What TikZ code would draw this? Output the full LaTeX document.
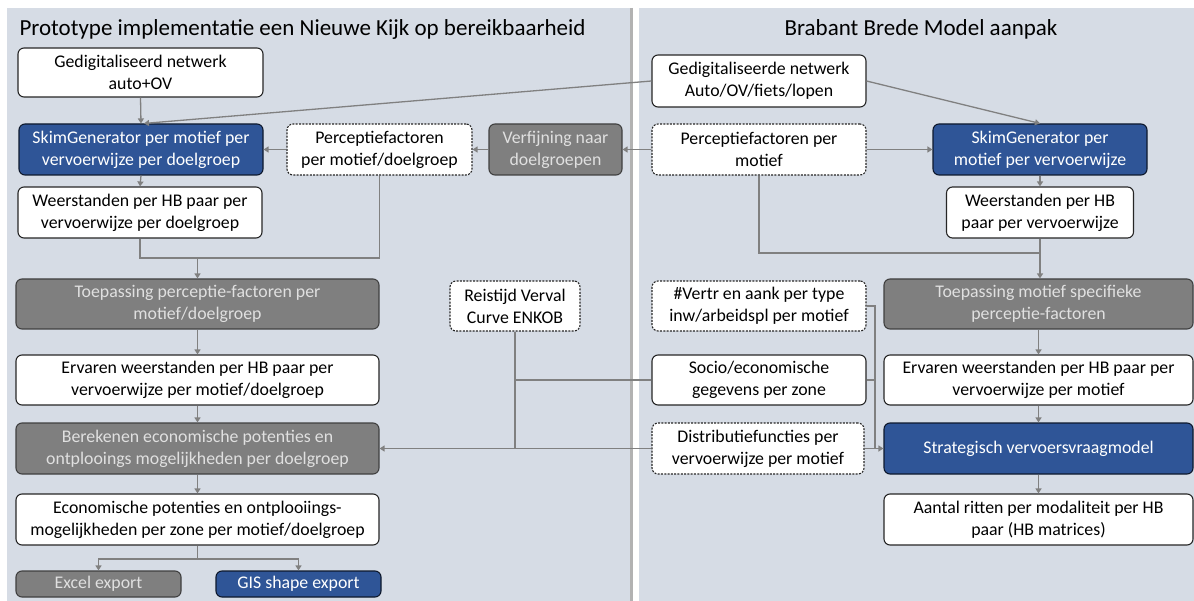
\documentclass[tikz,border=0pt]{standalone}
\usepackage{fontspec}
\setmainfont{Carlito}
\usetikzlibrary{arrows.meta}
\definecolor{panel}{HTML}{D6DCE5}
\definecolor{dblue}{HTML}{2F5597}
\definecolor{dgray}{HTML}{7F7F7F}
\definecolor{conn}{HTML}{808080}
\begin{document}
\begin{tikzpicture}[x=1pt,y=-1pt,
  base/.style={rounded corners=6pt, line width=1.1pt, align=center, inner sep=0pt, font=\fontsize{17.8}{22}\selectfont, anchor=center},
  wbox/.style={base, draw=black!85, fill=white},
  dbox/.style={base, draw=black!85, fill=white, dash pattern=on 2pt off 1.3pt},
  bbox/.style={base, draw=black!70!dblue, fill=dblue, text=white},
  gbox/.style={base, draw=black!75, fill=dgray, text=white!88!black},
  ln/.style={draw=conn, line width=1.3pt},
  ar/.style={ln, -{Triangle[width=6pt,length=5pt]}},
  ttl/.style={font=\fontsize{23}{26}\selectfont},
]
\useasboundingbox (0,0) rectangle (1194,601);
\fill[white] (0,0) rectangle (1194,601);
\fill[panel] (7,8) rectangle (630,601);
\fill[panel] (639,8) rectangle (1194,601);
\draw[line width=2.5pt, gray!60] (631.5,8) -- (631.5,601);

\node[ttl, anchor=west] (t1) at (16,29) {Prototype implementatie een Nieuwe Kijk op bereikbaarheid};
\node[ttl] (t2) at (921,29) {Brabant Brede Model aanpak};

% left column
\node[wbox, minimum width=245, minimum height=49] (g1) at (140.5,72.5) {Gedigitaliseerd netwerk\\auto+OV};
\node[bbox, minimum width=244, minimum height=51] (skimL) at (141,149.5) {SkimGenerator per motief per\\vervoerwijze per doelgroep};
\node[dbox, minimum width=185, minimum height=51] (percL) at (379.5,149.5) {Perceptiefactoren\\per motief/doelgroep};
\node[gbox, minimum width=133, minimum height=51] (verf) at (555.5,149.5) {Verfijning naar\\doelgroepen};
\node[wbox, minimum width=244, minimum height=51] (weerL) at (140,212.5) {Weerstanden per HB paar per\\vervoerwijze per doelgroep};
\node[gbox, minimum width=363, minimum height=50] (toepL) at (197.5,304) {Toepassing perceptie-factoren per\\motief/doelgroep};
\node[dbox, minimum width=130, minimum height=50] (reis) at (515,306) {Reistijd Verval\\Curve ENKOB};
\node[wbox, minimum width=363, minimum height=50] (ervL) at (197.5,380) {Ervaren weerstanden per HB paar per\\vervoerwijze per motief/doelgroep};
\node[gbox, minimum width=363, minimum height=51] (berL) at (197.5,448.5) {Berekenen economische potenties en\\ontplooings mogelijkheden per doelgroep};
\node[wbox, minimum width=363, minimum height=51] (ecoL) at (197.5,519.5) {Economische potenties en ontplooiings-\\mogelijkheden per zone per motief/doelgroep};
\node[gbox, minimum width=165, minimum height=26] (excel) at (98.5,584) {Excel export};
\node[bbox, minimum width=165, minimum height=26] (gis) at (298.5,584) {GIS shape export};

% right column
\node[wbox, minimum width=214, minimum height=52] (g2) at (759,81) {Gedigitaliseerde netwerk\\Auto/OV/fiets/lopen};
\node[dbox, minimum width=214, minimum height=51] (percR) at (759,149.5) {Perceptiefactoren per\\motief};
\node[bbox, minimum width=214, minimum height=51] (skimR) at (1040,149.5) {SkimGenerator per\\motief per vervoerwijze};
\node[wbox, minimum width=187, minimum height=51] (weerR) at (1040,212.5) {Weerstanden per HB\\paar per vervoerwijze};
\node[dbox, minimum width=214, minimum height=50] (vertr) at (759,306) {\#Vertr en aank per type\\inw/arbeidspl per motief};
\node[gbox, minimum width=309, minimum height=50] (toepR) at (1038.5,304) {Toepassing motief specifieke\\perceptie-factoren};
\node[wbox, minimum width=214, minimum height=50] (socio) at (759,380) {Socio/economische\\gegevens per zone};
\node[wbox, minimum width=309, minimum height=50] (ervR) at (1038.5,380) {Ervaren weerstanden per HB paar per\\vervoerwijze per motief};
\node[dbox, minimum width=212, minimum height=51] (distr) at (758,448.5) {Distributiefuncties per\\vervoerwijze per motief};
\node[bbox, minimum width=309, minimum height=51] (strat) at (1038.5,448.5) {Strategisch vervoersvraagmodel};
\node[wbox, minimum width=309, minimum height=51] (aantal) at (1038.5,519.5) {Aantal ritten per modaliteit per HB\\paar (HB matrices)};

% connectors left
\draw[ar] (g1.south) -- (skimL.north);
\draw[ar] (g2.west) -- ([xshift=3pt]skimL.north);
\draw[ar] (percL.west) -- (skimL.east);
\draw[ar] (verf.west) -- (percL.east);
\draw[ar] (percR.west) -- (verf.east);
\draw[ar] (skimL.south) -- (weerL.north);
\coordinate (j1) at (197.5,258);
\draw[ln] (weerL.south) |- (j1) -| (percL.south);
\draw[ar] (j1) -- (toepL.north);
\draw[ar] (toepL.south) -- (ervL.north);
\draw[ar] (ervL.south) -- (berL.north);
\draw[ar] (berL.south) -- (ecoL.north);
\coordinate (j3) at (197.5,559);
\draw[ln] (ecoL.south) -- (j3);
\draw[ar] (j3) -| (excel.north);
\draw[ar] (j3) -| (gis.north);
\draw[ln] (reis.south) -- (reis.south |- berL.east);
\draw[ln] (socio.west) -- (socio.west -| reis.south);
\draw[ar] (distr.west) -- (berL.east);

% connectors right
\draw[ar] (g2.east) -- (skimR.north);
\draw[ar] (percR.east) -- (skimR.west);
\draw[ar] (skimR.south) -- (weerR.north);
\coordinate (j2) at (1040,253);
\draw[ln] (percR.south) |- (j2);
\draw[ar] (weerR.south) -- (weerR.south |- toepR.north);
\draw[ar] (toepR.south) -- (ervR.north);
\draw[ar] (ervR.south) -- (strat.north);
\draw[ar] (strat.south) -- (aantal.north);
\coordinate (j5) at (875,306);
\draw[ln] (vertr.east) -- (j5) -- (j5 |- strat.west);
\draw[ln] (socio.east) -- (socio.east -| j5);
\draw[ar] (distr.east) -- (strat.west);
\end{tikzpicture}
\end{document}
